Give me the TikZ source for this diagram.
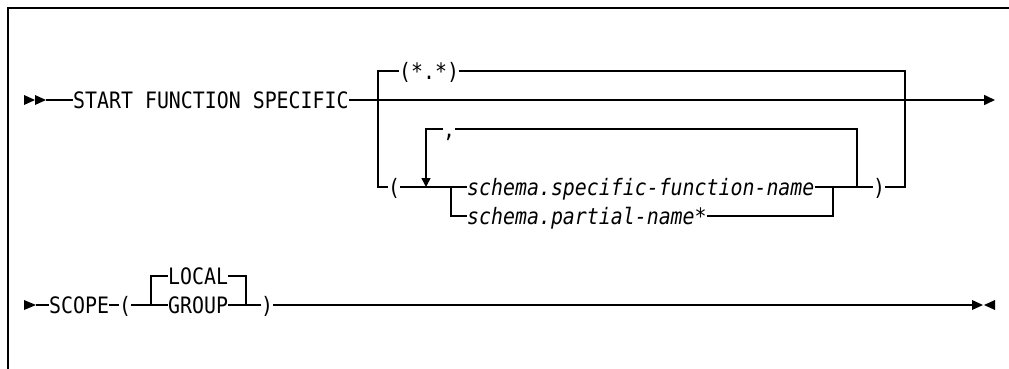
\documentclass[tikz,border=0pt]{standalone}
\usepackage{fontspec}
\usetikzlibrary{arrows.meta}
\newfontfamily\synfont[FakeStretch=0.88]{DejaVu Sans Mono}

\tikzset{
  kw/.style={font=\synfont\fontsize{22.6}{24}\selectfont, inner sep=0pt, anchor=west,
    text height=16.4pt, text depth=0pt},
  var/.style={kw, font=\synfont\itshape\fontsize{22.6}{24}\selectfont},
  rail/.style={line width=1.5pt, line join=miter},
  tipmark/.style={fill=black},
}

\begin{document}
\begin{tikzpicture}[x=1pt, y=-1pt]
  \useasboundingbox (0,0) rectangle (1009,369);

  % Frame
  \draw[line width=2.2pt] (8,369) -- (8,8) -- (1009,8);

  % Row 1: START FUNCTION SPECIFIC
  \fill[tipmark] (24,95) -- (35,100) -- (24,105) -- cycle;
  \fill[tipmark] (35,95) -- (46,100) -- (35,105) -- cycle;
  \coordinate (s1) at (46,100);
  \node[kw] (start) at (73,100) {START FUNCTION SPECIFIC};
  \coordinate (e1) at (995,100);
  \draw[rail] (s1) -- (start.west);
  \draw[rail, -{Triangle[length=11pt,width=10pt]}] (start.east) -- (e1);

  % choice: (*.*) or list
  \node[kw] (star) at (399,71) {(*.*)};
  \node[kw] (lpar) at (388,187) {(};
  \node[kw] (rpar) at (873,187) {)};
  \coordinate (b1) at (378,100);
  \draw[rail] (b1) |- (star.west);
  \draw[rail] (star.east) -| (905,187) -- (rpar.east);
  \draw[rail] (b1) |- (lpar.west);

  % repeat loop with separator
  \node[var] (spec) at (467,187) {schema.specific-function-name};
  \node[var] (part) at (467,216) {schema.partial-name*};
  \node[kw] (comma) at (443,129) {,};
  \coordinate (c1) at (451,187);
  \coordinate (c2) at (833,187);
  \draw[rail] (lpar.east) -- (spec.west);
  \draw[rail] (spec.east) -- (rpar.west);
  \draw[rail] (c1) |- (part.west);
  \draw[rail] (part.east) -| (c2);
  \draw[rail] (comma.east) -- (857,129) -- (857,187);
  \draw[rail, -{Triangle[length=9pt,width=9pt]}] (comma.west) -| (426,187);

  % Row 2: SCOPE ( LOCAL | GROUP )
  \fill[tipmark] (24,300) -- (36,305) -- (24,310) -- cycle;
  \coordinate (s2) at (36,305);
  \node[kw] (scope) at (49,305) {SCOPE};
  \node[kw] (lp2) at (119,305) {(};
  \node[kw] (local) at (168,276) {LOCAL};
  \node[kw] (group) at (168,305) {GROUP};
  \node[kw] (rp2) at (261,305) {)};
  \coordinate (c3) at (151,305);
  \coordinate (c4) at (246,305);
  \coordinate (e2) at (972,305);
  \draw[rail] (s2) -- (scope.west);
  \draw[rail] (scope.east) -- (lp2.west);
  \draw[rail] (lp2.east) -- (group.west);
  \draw[rail] (c3) |- (local.west);
  \draw[rail] (local.east) -| (c4);
  \draw[rail] (group.east) -- (rp2.west);
  \draw[rail] (rp2.east) -- (e2);
  \fill[tipmark] (972,300) -- (983,305) -- (972,310) -- cycle;
  \fill[tipmark] (995,300) -- (984,305) -- (995,310) -- cycle;
\end{tikzpicture}
\end{document}
